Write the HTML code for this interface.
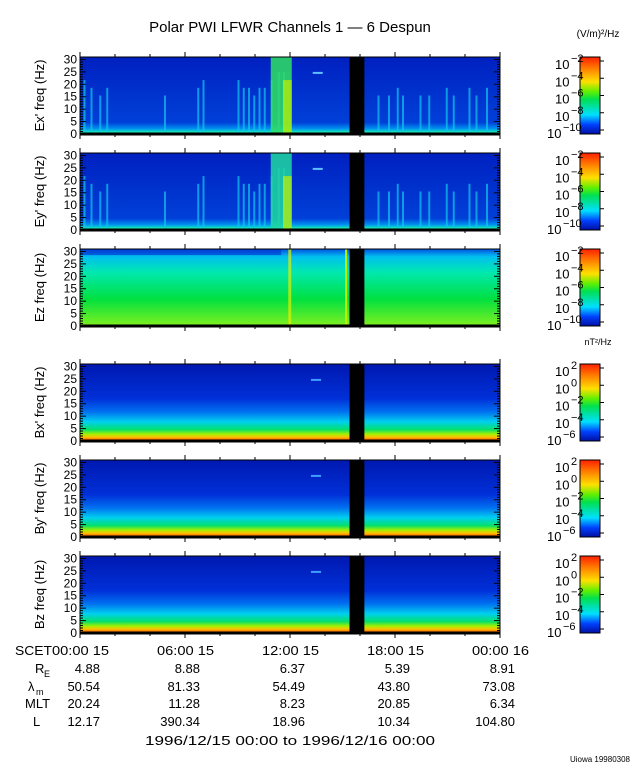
<!DOCTYPE html>
<html><head><meta charset="utf-8"><style>
body{margin:0;background:#fff;width:640px;height:768px;overflow:hidden}
svg{display:block;font-family:"Liberation Sans",sans-serif}
</style></head><body>
<svg id="c" width="640" height="768" xmlns="http://www.w3.org/2000/svg">
<defs>
<linearGradient id="cb" x1="0" y1="1" x2="0" y2="0">
<stop offset="0" stop-color="#0010a0"/><stop offset="0.12" stop-color="#0040ff"/><stop offset="0.25" stop-color="#00e0ff"/>
<stop offset="0.45" stop-color="#00e050"/><stop offset="0.55" stop-color="#60f000"/><stop offset="0.68" stop-color="#ffe000"/>
<stop offset="0.82" stop-color="#ff9000"/><stop offset="1" stop-color="#ff2000"/></linearGradient>
<linearGradient id="gE" x1="0" y1="0" x2="0" y2="1">
<stop offset="0" stop-color="#0020c0"/><stop offset="0.85" stop-color="#0040d8"/><stop offset="0.93" stop-color="#0090f0"/><stop offset="0.97" stop-color="#10e0c0"/><stop offset="1" stop-color="#40f060"/></linearGradient>
<linearGradient id="gZ" x1="0" y1="0" x2="0" y2="1">
<stop offset="0" stop-color="#0050e0"/><stop offset="0.1" stop-color="#00c0f0"/><stop offset="0.3" stop-color="#00e8b0"/><stop offset="0.65" stop-color="#00e040"/><stop offset="1" stop-color="#80f020"/></linearGradient>
<linearGradient id="gB" x1="0" y1="0" x2="0" y2="1">
<stop offset="0" stop-color="#0018b0"/><stop offset="0.45" stop-color="#0030d8"/><stop offset="0.62" stop-color="#0070f0"/><stop offset="0.75" stop-color="#00d0f0"/><stop offset="0.85" stop-color="#00e070"/><stop offset="0.91" stop-color="#a0f000"/><stop offset="0.95" stop-color="#ffc000"/><stop offset="1" stop-color="#ff4000"/></linearGradient>
</defs>
<text x="290" y="32" font-size="15" text-anchor="middle">Polar PWI LFWR Channels 1 — 6 Despun</text>
<text x="598" y="37" font-size="10" text-anchor="middle">(V/m)²/Hz</text>
<text x="598" y="345" font-size="9" text-anchor="middle">nT²/Hz</text>
<g id="panels"></g>
<g id="foot" font-size="13"></g>
<text x="630" y="762" font-size="8" text-anchor="end">Uiowa 19980308</text>
</svg>
<script>
const NS="http://www.w3.org/2000/svg";
const panelLabels=["Ex' freq (Hz)","Ey' freq (Hz)","Ez freq (Hz)","Bx' freq (Hz)","By' freq (Hz)","Bz freq (Hz)"];
const panelTops=[57,153,249,364,460,556];
const freqTicks=[0,5,10,15,20,25,30];
const timeTickLabels=["00:00 15","06:00 15","12:00 15","18:00 15","00:00 16"];
const gapStart=15.4, gapEnd=16.25;
const streakHours=[0.2,0.6,1.1,1.5,4.8,6.7,7.0,9.0,9.3,9.6,9.9,10.2,10.5,10.9,11.3,11.6,17.0,17.6,18.1,18.4,19.4,19.9,20.9,21.3,22.2,22.6,23.2];
const streakLevel=[0.7,0.6,0.5,0.6,0.5,0.6,0.7,0.7,0.6,0.6,0.5,0.6,0.6,0.7,0.8,0.8,0.5,0.5,0.6,0.5,0.5,0.5,0.6,0.5,0.6,0.5,0.6];
const burstStart=10.9, burstEnd=12.1;
const cbE=["10","10","10","10","10"], cbEexp=["−2","−4","−6","−8","−10"];
const cbB=["10","10","10","10","10"], cbBexp=["2","0","−2","−4","−6"];
const footVals=[["4.88","8.88","6.37","5.39","8.91"],["50.54","81.33","54.49","43.80","73.08"],["20.24","11.28","8.23","20.85","6.34"],["12.17","390.34","18.96","10.34","104.80"]];
const X0=80,X1=500,H=77;
const xs=h=>X0+(X1-X0)*h/24;
const svg=document.getElementById('panels');
function el(t,a,p){const e=document.createElementNS(NS,t);for(const k in a)e.setAttribute(k,a[k]);(p||svg).appendChild(e);return e;}
panelLabels.forEach((lab,i)=>{
 const top=panelTops[i], ys=f=>top+H-H*f/31;
 const g=el('g',{});
 
 
 const grad=i<2?'gE':(i==2?'gZ':'gB');
 el('rect',{x:X0,y:top,width:X1-X0,height:H,fill:'url(#'+grad+')'},g);
 if(i<2){
  streakHours.forEach((h,j)=>{
   const s=el('rect',{x:xs(h),y:top+H*(1-streakLevel[j]),width:2,height:H*streakLevel[j],fill:'#10c8f0',opacity:0.7},g);
   
   
  });
  const b=el('rect',{x:xs(burstStart),y:top,width:xs(burstEnd)-xs(burstStart),height:H,fill:i==0?'#30e060':'#20d8a0',opacity:0.85},g);
  
  
  el('rect',{x:xs(11.6),y:top+H*0.3,width:xs(burstEnd)-xs(11.6),height:H*0.7,fill:'#c0f000',opacity:0.7},g);
  el('rect',{x:xs(13.3),y:ys(25),width:10,height:2,fill:'#60c0ff'},g);
 } else if(i==2){
  el('rect',{x:xs(11.9),y:top,width:3,height:H,fill:'#e0f000',opacity:0.7},g);
  el('rect',{x:xs(15.15),y:top,width:2,height:H,fill:'#c0f000'},g);
  el('rect',{x:X0,y:top,width:xs(11.5)-X0,height:6,fill:'#0030d0',opacity:0.6},g);
 } else {
  el('rect',{x:xs(13.2),y:ys(25),width:10,height:2,fill:'#40a0ff'},g);
 }
 const gap=el('rect',{x:xs(gapStart),y:top,width:xs(gapEnd)-xs(gapStart),height:H,fill:'#000'},g);
 
 
 el('rect',{x:X0,y:top,width:X1-X0,height:H,fill:'none',stroke:'#000','stroke-width':1},g);
 el('line',{x1:X0,y1:top+H,x2:X1,y2:top+H,stroke:'#000','stroke-width':3},g);
 for(let f=0;f<=31;f++){const l=f%5==0?6:3;el('line',{x1:X0,y1:ys(f),x2:X0+l,y2:ys(f),stroke:'#000'},g);el('line',{x1:X1,y1:ys(f),x2:X1-l,y2:ys(f),stroke:'#000'},g);}
 freqTicks.forEach(f=>{const t=el('text',{x:X0-3,y:ys(f)+4,'font-size':12,'text-anchor':'end'},g);t.textContent=f;});
 for(let h=0;h<=24;h+=2){const l=h%6==0?5:3;el('line',{x1:xs(h),y1:top+H,x2:xs(h),y2:top+H+l,stroke:'#000'},g);el('line',{x1:xs(h),y1:top,x2:xs(h),y2:top-l,stroke:'#000'},g);}
 const yl=el('text',{x:0,y:0,'font-size':13,'text-anchor':'middle',transform:`translate(44,${top+H/2}) rotate(-90)`},g);
 yl.textContent=lab;
 
 
 const cb=el('g',{},g);
 
 
 el('rect',{x:580,y:top,width:20,height:H,fill:'url(#cb)',stroke:'#000'},cb);
 const base=i<3?cbE:cbB, ex=i<3?cbEexp:cbBexp;
 for(let k=0;k<5;k++){
  const yy=top+4+k*(H-8)/4;
  el('line',{x1:600,y1:yy,x2:604,y2:yy,stroke:'#000'},cb);
  const t=el('text',{x:555-(k==4?8:0),y:yy+8,'font-size':13},cb);
  t.textContent=base[k];
  const s=el('text',{x:571-(k==4?8:0),y:yy+1,'font-size':11},cb);
  s.textContent=ex[k];
 }
});
const ft=document.getElementById('foot');
const tx=[X0,xs(6),xs(12),xs(18),xs(24)];
el('text',{x:15,y:655,textLength:37,lengthAdjust:'spacingAndGlyphs'},ft).textContent="SCET";
timeTickLabels.forEach((l,i)=>{const t=el('text',{x:tx[i]-28,y:655,textLength:57,lengthAdjust:'spacingAndGlyphs'},ft);t.textContent=l;});
const rowY=[673,691,708,726];
const rl=[["R",35],["λ",28],["MLT",25],["L",33]];
rowY.forEach((y,r)=>{
 el('text',{x:rl[r][1],y:y},ft).textContent=rl[r][0];
 if(r==0)el('text',{x:44,y:y+4,'font-size':9},ft).textContent="E";
 if(r==1)el('text',{x:36,y:y+4,'font-size':9},ft).textContent="m";
 footVals[r].forEach((v,i)=>{const t=el('text',{x:(i==0?100:tx[i]+15),y:y,'text-anchor':'end'},ft);t.textContent=v;});
});
el('text',{x:290,y:745,'text-anchor':'middle',textLength:290,lengthAdjust:'spacingAndGlyphs'},ft).textContent="1996/12/15 00:00 to 1996/12/16 00:00";
</script>
</body></html>
